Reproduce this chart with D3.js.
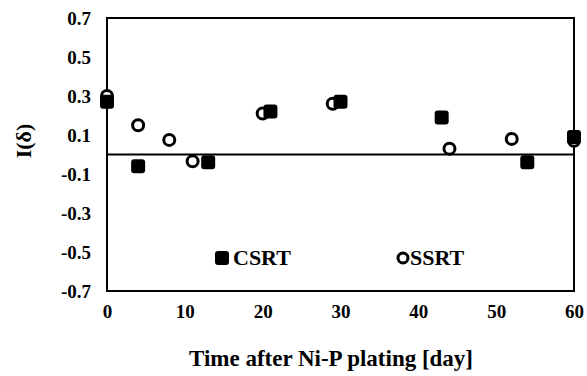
<!DOCTYPE html>
<html>
<head>
<meta charset="utf-8">
<script src="https://cdn.jsdelivr.net/npm/d3@7"></script>
<style>
body{margin:0;background:#fff;}
text{font-family:"Liberation Serif","Times New Roman",serif;font-weight:bold;fill:#000;}
</style>
</head>
<body>
<div id="chart"></div>
<script>
// data
var csrtDays = [0, 4, 13, 21, 30, 43, 54, 60];
var csrtValues = [0.27, -0.06, -0.04, 0.22, 0.27, 0.19, -0.04, 0.09];
var ssrtDays = [0, 4, 8, 11, 20, 29, 44, 52, 60];
var ssrtValues = [0.30, 0.15, 0.075, -0.035, 0.21, 0.26, 0.03, 0.08, 0.07];
var xTicks = [0, 10, 20, 30, 40, 50, 60];
var yTicks = [-0.7, -0.5, -0.3, -0.1, 0.1, 0.3, 0.5, 0.7];

var width = 587, height = 376;
var margin = {left:107, right:13, top:18, bottom:85};

var svg = d3.select('#chart').append('svg')
    .attr('width', width)
    .attr('height', height);

var x = d3.scaleLinear().domain([0, 60]).range([margin.left, width-margin.right]);
var y = d3.scaleLinear().domain([-0.7, 0.7]).range([height-margin.bottom, margin.top]);

//frame
svg.append('rect')
    .attr('x', x(0)).attr('y', y(0.7))
    .attr('width', x(60)-x(0)).attr('height', y(-0.7)-y(0.7))
    .style('fill', 'none').style('stroke', '#000').style('stroke-width', 2);

//zero line
svg.append('line')
    .attr('x1', x(0)).attr('x2', x(60))
    .attr('y1', y(0)).attr('y2', y(0))
    .style('stroke', '#000').style('stroke-width', 2);

//axes, labels only
var axisX = d3.axisBottom(x).tickValues(xTicks).tickSize(0).tickPadding(14).tickFormat(d3.format('d'));
var $axisX = svg.append('g').attr('transform', 'translate(0,'+y(-0.7)+')').call(axisX);
$axisX.select('.domain').remove();
$axisX.selectAll('text').style('font-size', '19px').style('font-family', null);

var axisY = d3.axisLeft(y).tickValues(yTicks).tickSize(0).tickPadding(16).tickFormat(function(d){
    return d.toFixed(1);
});
var $axisY = svg.append('g').attr('transform', 'translate('+x(0)+',0)').call(axisY);
$axisY.select('.domain').remove();
$axisY.selectAll('text').style('font-size', '19px').style('font-family', null);

//axis titles
svg.append('text')
    .attr('x', 331).attr('y', 366)
    .attr('text-anchor', 'middle')
    .style('font-size', '23px')
    .text('Time after Ni-P plating [day]');

svg.append('text')
    .attr('transform', 'translate(31,141) rotate(-90)')
    .attr('text-anchor', 'middle')
    .style('font-size', '22px')
    .text('I(δ)');

//SSRT circles
svg.append('g').selectAll('circle')
    .data(ssrtDays)
    .enter().append('circle')
    .attr('cx', function(d){ return x(d); })
    .attr('cy', function(d, i){ return y(ssrtValues[i]); })
    .attr('r', 5.5)
    .style('fill', '#fff').style('stroke', '#000').style('stroke-width', 3);

//CSRT squares
var sq = 14;
svg.append('g').selectAll('rect')
    .data(csrtDays)
    .enter().append('rect')
    .attr('x', function(d){ return x(d)-sq/2; })
    .attr('y', function(d, i){ return y(csrtValues[i])-sq/2; })
    .attr('width', sq).attr('height', sq)
    .attr('rx', 3)
    .style('fill', '#000');

//legend
var $legend = svg.append('g');
$legend.append('rect')
    .attr('x', 215).attr('y', 251).attr('width', sq).attr('height', sq).attr('rx', 3)
    .style('fill', '#000');
$legend.append('text').attr('x', 233).attr('y', 265).style('font-size', '22px').text('CSRT');
$legend.append('circle')
    .attr('cx', 403).attr('cy', 258).attr('r', 5)
    .style('fill', '#fff').style('stroke', '#000').style('stroke-width', 3);
$legend.append('text').attr('x', 410).attr('y', 265).style('font-size', '22px').text('SSRT');
</script>
</body>
</html>
